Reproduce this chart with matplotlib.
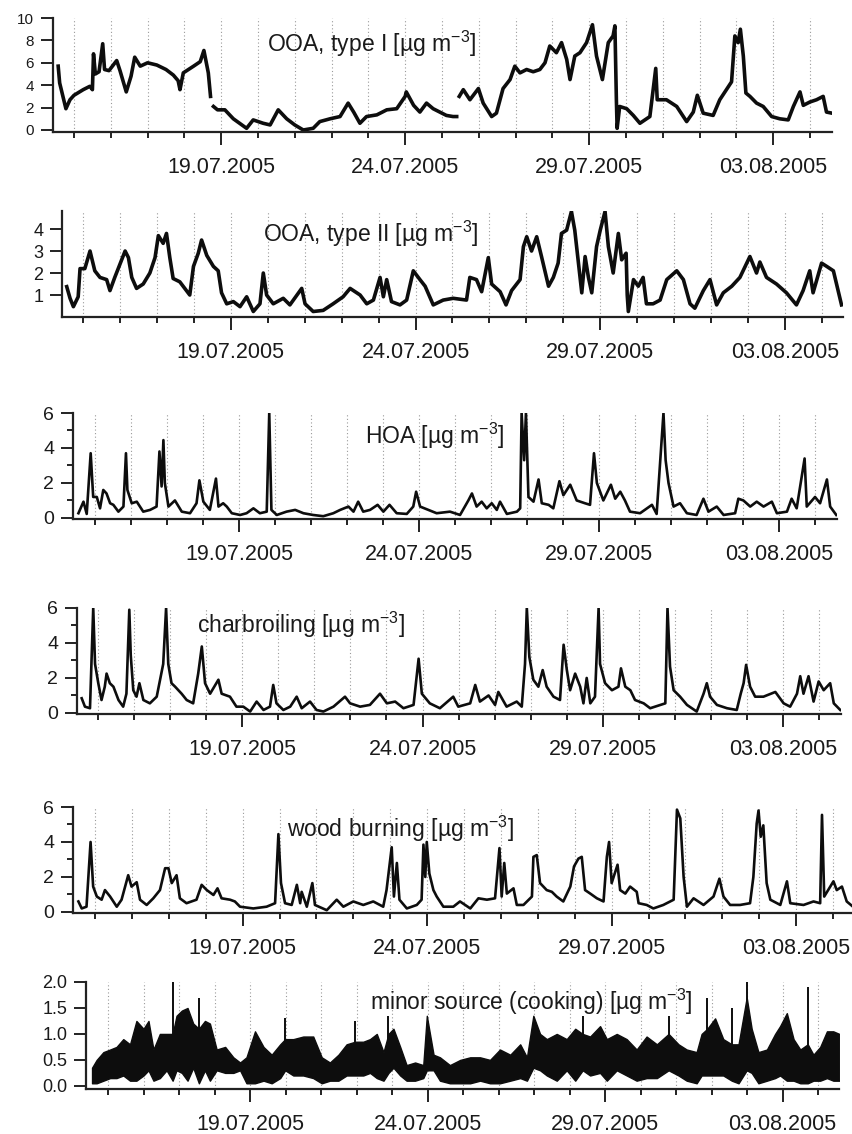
import numpy as np
import matplotlib
matplotlib.use("Agg")
import matplotlib.pyplot as plt

plt.rcParams['font.family'] = ['Liberation Sans', 'DejaVu Sans']
plt.rcParams['mathtext.fontset'] = 'custom'
plt.rcParams['mathtext.rm'] = 'Liberation Sans'
plt.rcParams['mathtext.it'] = 'Liberation Sans'
plt.rcParams['mathtext.bf'] = 'Liberation Sans'

# time axis: days after 15.07.2005 00:00
day_ticks = list(range(0, 21))
major_days = [4, 9, 14, 19]
major_labels = ['19.07.2005', '24.07.2005', '29.07.2005', '03.08.2005']

# ---------------- OOA, type I ----------------
ooa1_t = [-0.43, -0.39, -0.3, -0.22, -0.11, 0.0, 0.25, 0.43, 0.5, 0.53, 0.58, 0.68, 0.78, 0.83, 0.95,
          1.16, 1.25, 1.42, 1.55, 1.65, 1.8, 2.0, 2.25, 2.5, 2.7, 2.83, 2.88, 2.97, 3.25, 3.43, 3.53,
          3.65, 3.71, 3.75, 3.79, 3.9, 4.1, 4.33, 4.5, 4.69, 4.87, 5.14, 5.33, 5.55, 5.78, 6.0, 6.23,
          6.5, 6.68, 6.96, 7.23, 7.45, 7.6, 7.77, 7.95, 8.23, 8.5, 8.77, 9.0, 9.03, 9.23, 9.4, 9.58,
          9.76, 9.94, 10.12, 10.3, 10.4, 10.43, 10.47, 10.58, 10.76, 10.99, 11.12, 11.35, 11.48, 11.66,
          11.85, 11.98, 12.12, 12.3, 12.48, 12.66, 12.8, 12.93, 13.11, 13.25, 13.39, 13.48, 13.61,
          13.75, 13.93, 14.09, 14.2, 14.36, 14.52, 14.65, 14.7, 14.74, 14.76, 14.83, 15.02, 15.2,
          15.38, 15.65, 15.81, 15.85, 16.1, 16.38, 16.65, 16.83, 16.94, 17.1, 17.37, 17.55, 17.73,
          17.87, 17.96, 18.05, 18.11, 18.19, 18.26, 18.37, 18.55, 18.73, 18.96, 19.18, 19.41, 19.55,
          19.73, 19.82, 20.0, 20.18, 20.36, 20.45, 20.6]
ooa1_v = [5.7, 4.2, 3.0, 1.9, 2.7, 3.1, 3.6, 3.9, 3.6, 6.8, 5.0, 5.2, 7.7, 5.4, 5.3,
          6.2, 5.3, 3.4, 4.8, 6.5, 5.7, 6.0, 5.8, 5.4, 4.9, 4.4, 3.6, 5.1, 5.7, 6.1, 7.1,
          5.1, 3.0, np.nan, 2.1, 1.8, 1.8, 1.0, 0.6, 0.15, 0.9, 0.6, 0.45, 1.8, 1.0, 0.45, 0.0,
          0.15, 0.75, 1.0, 1.2, 2.4, 1.6, 0.6, 1.2, 1.35, 1.8, 1.9, 3.0, 3.4, 2.2, 1.6, 2.4,
          1.9, 1.6, 1.3, 1.2, 1.2, np.nan, 3.0, 3.6, 2.7, 3.7, 2.4, 1.2, 1.5, 3.7,
          4.5, 5.7, 5.1, 5.4, 5.2, 5.4, 6.0, 7.5, 6.9, 7.8, 6.3, 4.5, 6.6,
          6.9, 7.8, 9.4, 6.6, 4.5, 7.8, 8.4, 9.3, 2.7, 0.15, 2.1, 1.9, 1.3,
          0.6, 1.2, 5.5, 2.7, 2.7, 2.1, 0.75, 1.6, 3.1, 1.5, 1.3, 2.7, 3.6,
          4.3, 8.4, 7.8, 9.0, 6.6, 3.3, 3.0, 2.4, 2.1, 1.2, 1.0, 0.9, 2.1,
          3.4, 2.2, 2.5, 2.7, 3.0, 1.6, 1.5]

# ---------------- OOA, type II ----------------
ooa2_t = [-0.44, -0.35, -0.26, -0.13, -0.08, 0.05, 0.19, 0.32, 0.46, 0.64, 0.73, 0.86, 1.0, 1.14,
          1.23, 1.32, 1.45, 1.63, 1.81, 1.95, 2.04, 2.17, 2.26, 2.35, 2.44, 2.62, 2.8, 2.89, 2.99,
          3.12, 3.21, 3.35, 3.53, 3.66, 3.75, 3.89, 4.07, 4.25, 4.43, 4.61, 4.79, 4.88, 4.97, 5.15,
          5.42, 5.6, 5.92, 6.01, 6.23, 6.5, 6.77, 7.04, 7.23, 7.5, 7.68, 7.86, 8.04, 8.13, 8.22,
          8.35, 8.58, 8.76, 8.94, 9.12, 9.26, 9.48, 9.75, 10.02, 10.38, 10.47, 10.65, 10.79, 10.97,
          11.06, 11.29, 11.45, 11.6, 11.83, 11.92, 12.01, 12.14, 12.28, 12.41, 12.6, 12.73, 12.86,
          12.95, 13.09, 13.22, 13.31, 13.4, 13.5, 13.59, 13.68, 13.77, 13.9, 14.0, 14.13, 14.22,
          14.35, 14.49, 14.58, 14.7, 14.73, 14.76, 14.9, 15.03, 15.16, 15.25, 15.43, 15.62, 15.8,
          16.07, 16.25, 16.43, 16.56, 16.79, 16.97, 17.15, 17.33, 17.56, 17.78, 18.05, 18.23,
          18.32, 18.5, 18.77, 19.04, 19.31, 19.49, 19.67, 19.76, 19.99, 20.13, 20.31, 20.45, 20.53]
ooa2_v = [1.38, 0.85, 0.47, 0.92, 2.2, 2.2, 3.0, 2.1, 1.8, 1.7, 1.2, 1.8, 2.4, 3.0,
          2.7, 1.8, 1.3, 1.5, 2.0, 2.7, 3.7, 3.35, 3.8, 2.7, 1.75, 1.6, 1.2, 1.0, 2.3,
          2.9, 3.5, 2.8, 2.3, 2.1, 1.1, 0.6, 0.7, 0.47, 0.92, 0.25, 0.6, 2.0, 1.0, 0.6,
          0.85, 0.55, 1.3, 0.6, 0.25, 0.3, 0.6, 0.92, 1.3, 1.0, 0.6, 0.77, 1.8, 0.92, 1.7,
          0.7, 0.55, 0.77, 2.1, 1.7, 1.4, 0.55, 0.77, 0.85, 0.77, 1.8, 1.7, 1.15, 2.7,
          1.5, 1.15, 0.55, 1.2, 1.7, 3.2, 3.65, 3.0, 3.65, 2.75, 1.4, 1.8, 2.45,
          3.8, 3.95, 4.8, 3.95, 2.6, 1.1, 2.75, 1.8, 1.1, 3.2, 3.95, 4.8, 3.2,
          2.0, 3.8, 2.6, 2.9, 1.0, 0.25, 1.7, 1.4, 1.8, 0.6, 0.6, 0.77, 1.7,
          2.1, 1.7, 0.6, 0.4, 1.2, 1.7, 0.55, 1.1, 1.4, 1.8, 2.75, 2.0,
          2.5, 1.8, 1.5, 1.1, 0.55, 1.2, 2.1, 1.1, 2.45, 2.3, 2.1, 1.1, 0.55]

# ---------------- HOA ----------------
hoa_t = [-0.46, -0.32, -0.23, -0.12, -0.05, 0.05, 0.14, 0.23, 0.32, 0.42, 0.51, 0.65, 0.79, 0.86,
         0.9, 1.02, 1.16, 1.34, 1.53, 1.71, 1.79, 1.85, 1.9, 1.94, 2.04, 2.22, 2.41, 2.64, 2.82,
         2.9, 3.01, 3.19, 3.36, 3.43, 3.56, 3.66, 3.8, 4.03, 4.21, 4.4, 4.58, 4.77, 4.84, 4.9,
         5.05, 5.32, 5.56, 5.79, 6.06, 6.34, 6.62, 6.81, 7.04, 7.18, 7.31, 7.45, 7.64, 7.85, 8.01,
         8.18, 8.38, 8.66, 8.84, 8.92, 9.03, 9.21, 9.49, 9.86, 10.14, 10.37, 10.47, 10.6, 10.74,
         10.88, 11.02, 11.16, 11.25, 11.44, 11.72, 11.81, 11.85, 11.92, 11.97, 12.04, 12.18, 12.32,
         12.41, 12.6, 12.73, 12.9, 13.01, 13.2, 13.38, 13.61, 13.75, 13.86, 13.94, 14.12, 14.33,
         14.45, 14.59, 14.72, 14.86, 15.14, 15.47, 15.6, 15.79, 15.85, 15.93, 16.07, 16.25, 16.44,
         16.71, 16.9, 17.04, 17.27, 17.46, 17.78, 17.87, 18.01, 18.2, 18.38, 18.57, 18.8, 18.94,
         19.22, 19.35, 19.49, 19.71, 19.77, 20.0, 20.14, 20.33, 20.42, 20.59]
hoa_v = [0.27, 0.93, 0.23, 3.7, 1.2, 1.2, 0.55, 1.6, 1.4, 0.84, 0.75, 0.36, 0.65, 3.7,
         1.6, 0.84, 0.93, 0.36, 0.46, 0.65, 3.8, 1.8, 4.45, 2.0, 0.65, 1.0, 0.36, 0.27, 0.84,
         2.15, 0.93, 0.46, 2.25, 0.65, 0.84, 0.65, 0.27, 0.17, 0.27, 0.55, 0.27, 0.36, 6.0, 0.46,
         0.17, 0.36, 0.46, 0.27, 0.17, 0.1, 0.27, 0.46, 0.65, 0.36, 0.93, 0.36, 0.46, 0.75, 0.36,
         0.75, 0.27, 0.23, 0.65, 1.5, 0.65, 0.5, 0.27, 0.36, 0.17, 1.0, 1.4, 0.65, 0.93,
         0.55, 0.84, 0.46, 0.93, 0.23, 0.36, 0.55, 6.0, 3.3, 6.0, 1.2, 0.93, 2.2,
         0.84, 0.75, 0.55, 2.1, 1.3, 1.9, 1.0, 0.84, 0.75, 3.7, 2.0, 1.0, 1.9,
         1.1, 1.5, 1.0, 0.36, 0.27, 0.75, 0.23, 6.0, 3.3, 2.0, 0.65, 0.84, 0.27,
         0.17, 1.1, 0.36, 0.65, 0.17, 0.27, 1.1, 1.0, 0.65, 0.93, 0.65, 0.93, 0.27,
         0.36, 1.1, 0.55, 3.4, 0.65, 1.2, 0.84, 2.2, 0.65, 0.17]

# ---------------- charbroiling ----------------
char_t = [-0.45, -0.36, -0.22, -0.13, -0.08, 0.01, 0.1, 0.19, 0.24, 0.33, 0.43, 0.57, 0.7, 0.79,
          0.87, 0.91, 0.98, 1.07, 1.15, 1.26, 1.44, 1.63, 1.81, 1.89, 1.95, 2.04, 2.14, 2.32, 2.46,
          2.64, 2.78, 2.88, 2.97, 3.11, 3.34, 3.43, 3.66, 3.84, 4.03, 4.22, 4.4, 4.59, 4.77, 4.86,
          4.95, 5.14, 5.33, 5.51, 5.65, 5.88, 6.06, 6.25, 6.53, 6.85, 6.99, 7.27, 7.54, 7.82, 8.01,
          8.24, 8.47, 8.75, 8.89, 8.98, 9.2, 9.48, 9.85, 9.99, 10.32, 10.46, 10.59, 10.83, 11.01,
          11.1, 11.33, 11.61, 11.75, 11.84, 11.89, 11.96, 12.07, 12.21, 12.33, 12.44, 12.63, 12.81,
          12.91, 13.0, 13.09, 13.23, 13.37, 13.46, 13.55, 13.65, 13.78, 13.88, 13.92, 14.06, 14.25,
          14.43, 14.5, 14.62, 14.76, 14.89, 15.13, 15.31, 15.59, 15.73, 15.79, 15.86, 15.96, 16.14,
          16.33, 16.6, 16.79, 16.88, 16.97, 17.16, 17.44, 17.71, 17.82, 17.9, 17.97, 18.08, 18.22,
          18.45, 18.78, 19.01, 19.19, 19.38, 19.47, 19.56, 19.7, 19.84, 19.98, 20.12, 20.3, 20.4,
          20.58]
char_v = [0.84, 0.36, 0.27, 6.0, 2.8, 1.7, 0.74, 1.5, 2.25, 1.7, 1.5, 0.74, 0.36, 1.1,
          5.9, 3.3, 1.3, 0.93, 1.7, 0.74, 0.55, 0.93, 2.8, 6.0, 2.8, 1.7, 1.5, 1.1, 0.74,
          0.55, 2.25, 3.8, 1.7, 1.1, 1.9, 1.1, 0.93, 0.36, 0.36, 0.08, 0.65, 0.17, 0.36, 1.6,
          0.55, 0.17, 0.36, 0.93, 0.27, 0.65, 0.17, 0.08, 0.36, 0.93, 0.55, 0.36, 0.46, 1.1, 0.55,
          0.65, 0.27, 0.46, 3.1, 1.1, 0.55, 0.27, 0.93, 0.36, 0.55, 1.6, 0.65, 1.0, 0.46,
          1.2, 0.36, 0.65, 0.36, 2.8, 6.0, 3.2, 1.9, 1.5, 2.45, 1.5, 0.93, 0.74,
          3.9, 2.45, 1.3, 2.25, 1.5, 0.55, 2.0, 0.55, 0.93, 6.0, 2.8, 1.7, 1.3,
          1.5, 2.55, 1.5, 1.3, 0.74, 0.55, 0.27, 0.46, 0.55, 6.0, 2.65, 1.3, 0.93,
          0.46, 0.08, 1.1, 1.7, 0.93, 0.46, 0.27, 0.17, 1.1, 1.7, 2.75, 1.5, 0.93,
          0.93, 1.2, 0.55, 0.36, 1.1, 2.1, 1.1, 2.1, 0.65, 1.8, 1.3, 1.7, 0.55,
          0.17]

# ---------------- wood burning ----------------
wood_t = [-0.45, -0.36, -0.23, -0.12, -0.05, 0.05, 0.18, 0.27, 0.41, 0.59, 0.72, 0.9, 0.99, 1.13,
          1.22, 1.4, 1.58, 1.76, 1.9, 1.99, 2.08, 2.21, 2.3, 2.48, 2.75, 2.89, 3.03, 3.21, 3.32,
          3.43, 3.66, 3.79, 3.93, 4.29, 4.65, 4.88, 4.97, 5.04, 5.15, 5.33, 5.47, 5.56, 5.6, 5.74,
          5.89, 5.96, 6.28, 6.55, 6.73, 7.0, 7.27, 7.54, 7.81, 7.9, 8.04, 8.1, 8.18, 8.25, 8.45,
          8.72, 8.85, 8.9, 8.95, 8.99, 9.06, 9.17, 9.26, 9.44, 9.71, 9.89, 10.17, 10.39, 10.62,
          10.84, 10.96, 11.02, 11.09, 11.16, 11.34, 11.43, 11.61, 11.84, 11.88, 11.97, 12.06, 12.24,
          12.38, 12.51, 12.69, 12.88, 12.98, 13.1, 13.19, 13.28, 13.42, 13.6, 13.78, 13.87, 13.93,
          14.0, 14.16, 14.23, 14.37, 14.5, 14.68, 14.73, 14.95, 15.13, 15.4, 15.68, 15.77, 15.86,
          15.95, 16.04, 16.22, 16.49, 16.76, 16.92, 17.03, 17.21, 17.48, 17.75, 17.84, 17.93, 17.98,
          18.04, 18.11, 18.2, 18.3, 18.57, 18.75, 18.84, 19.2, 19.47, 19.65, 19.7, 19.76, 20.01,
          20.1, 20.24, 20.37, 20.54]
wood_v = [0.6, 0.2, 0.3, 4.0, 1.45, 0.88, 0.7, 1.25, 0.88, 0.3, 0.7, 2.1, 1.45, 1.7,
          0.7, 0.4, 0.78, 1.25, 2.5, 2.5, 1.65, 2.1, 0.78, 0.5, 0.7, 1.55, 1.25, 0.97, 1.35,
          0.78, 0.7, 0.6, 0.3, 0.2, 0.3, 0.5, 4.45, 1.65, 0.5, 0.4, 1.55, 0.5, 1.15, 0.3,
          1.65, 0.4, 0.1, 0.7, 0.3, 0.6, 0.4, 0.6, 0.3, 1.25, 3.7, 0.88, 2.8, 0.7, 0.2,
          0.4, 0.7, 3.85, 2.0, 4.0, 2.2, 1.25, 0.88, 0.3, 0.3, 0.6, 0.2, 0.78, 0.7,
          0.78, 3.65, 0.88, 2.8, 1.05, 1.35, 0.4, 0.4, 0.88, 3.15, 3.25, 1.65, 1.25,
          1.15, 0.88, 0.6, 1.45, 2.6, 3.05, 3.15, 1.25, 1.05, 0.78, 0.6, 3.15, 4.0,
          1.65, 2.7, 1.25, 1.05, 1.45, 1.15, 0.5, 0.4, 0.2, 0.4, 0.7, 5.85, 5.35,
          2.0, 0.3, 0.78, 0.4, 0.88, 1.9, 0.88, 0.4, 0.4, 0.5, 2.0, 5.05, 5.8,
          4.3, 4.95, 1.65, 0.7, 0.4, 1.75, 0.5, 0.4, 0.6, 0.5, 5.55, 0.88, 1.75,
          1.25, 1.45, 0.6, 0.3]

# ---------------- minor source (cooking): band lower / upper edge ----------------
minor_t = [-0.45, -0.32, -0.13, 0.06, 0.24, 0.43, 0.62, 0.8, 1.0, 1.14, 1.28, 1.46, 1.65, 1.82,
           1.93, 2.08, 2.24, 2.4, 2.56, 2.73, 2.87, 3.06, 3.3, 3.53, 3.72, 3.9, 4.14, 4.38, 4.61,
           4.85, 4.99, 5.22, 5.5, 5.78, 6.02, 6.25, 6.49, 6.72, 6.96, 7.19, 7.38, 7.57, 7.76, 7.9,
           8.04, 8.23, 8.41, 8.65, 8.88, 8.98, 9.17, 9.35, 9.63, 9.92, 10.2, 10.48, 10.76, 11.04,
           11.33, 11.61, 11.8, 11.98, 12.17, 12.36, 12.64, 12.92, 13.16, 13.37, 13.58, 13.86, 14.05,
           14.33, 14.61, 14.89, 15.17, 15.46, 15.79, 16.07, 16.3, 16.58, 16.72, 16.88, 17.1, 17.33,
           17.57, 17.76, 17.99, 18.13, 18.32, 18.56, 18.79, 18.93, 19.12, 19.31, 19.5, 19.71, 19.87,
           20.06, 20.25, 20.43, 20.6]
minor_lo = [0.05, 0.05, 0.1, 0.15, 0.15, 0.2, 0.1, 0.1, 0.2, 0.3, 0.1, 0.15, 0.3, 0.1,
            0.3, 0.25, 0.1, 0.35, 0.05, 0.3, 0.1, 0.3, 0.25, 0.25, 0.3, 0.05, 0.05, 0.1, 0.05,
            0.15, 0.3, 0.2, 0.2, 0.15, 0.05, 0.1, 0.1, 0.2, 0.2, 0.2, 0.25, 0.15, 0.1, 0.25,
            0.35, 0.2, 0.1, 0.1, 0.15, 0.3, 0.3, 0.1, 0.05, 0.05, 0.05, 0.1, 0.05, 0.05,
            0.1, 0.15, 0.1, 0.35, 0.3, 0.2, 0.1, 0.3, 0.1, 0.3, 0.2, 0.25, 0.1,
            0.3, 0.2, 0.1, 0.15, 0.15, 0.3, 0.2, 0.1, 0.05, 0.2, 0.2, 0.2, 0.2,
            0.1, 0.05, 0.3, 0.25, 0.05, 0.1, 0.15, 0.2, 0.1, 0.1, 0.05, 0.05, 0.1,
            0.1, 0.15, 0.1, 0.1]
minor_hi = [0.35, 0.5, 0.65, 0.7, 0.75, 0.9, 0.8, 1.25, 1.1, 1.25, 0.7, 1.0, 1.0, 1.0,
            1.35, 1.45, 1.5, 1.2, 1.1, 1.25, 1.2, 0.7, 0.75, 0.55, 0.45, 0.55, 1.05, 0.75, 0.6,
            0.8, 0.9, 0.9, 0.95, 0.95, 0.55, 0.45, 0.6, 0.8, 0.85, 0.85, 0.9, 1.0, 0.65, 1.0,
            1.1, 0.75, 0.4, 0.45, 0.4, 1.35, 0.6, 0.55, 0.4, 0.5, 0.55, 0.55, 0.5, 0.7,
            0.6, 0.8, 0.55, 1.35, 1.0, 0.9, 1.0, 0.9, 1.1, 1.0, 0.95, 1.15, 0.9,
            1.0, 0.9, 0.7, 0.95, 0.8, 1.0, 0.8, 0.7, 0.65, 1.0, 1.1, 1.3, 0.9,
            0.8, 0.8, 1.7, 1.1, 0.65, 0.7, 1.0, 1.15, 1.4, 0.9, 0.7, 0.8, 0.6,
            0.75, 1.05, 1.05, 1.0]
minor_spike_t = [1.82, 2.56, 4.99, 6.96, 7.9, 13.37, 15.79, 16.88, 17.57, 17.99, 19.71]
minor_spike_lo = [0.3, 0.3, 0.3, 0.3, 0.3, 0.3, 0.3, 0.3, 0.3, 0.5, 0.3]
minor_spike_hi = [2.0, 1.7, 1.3, 1.25, 1.35, 1.35, 1.35, 1.7, 1.5, 2.0, 1.9]

titles = ['OOA, type I [µg m$^{-3}$]', 'OOA, type II [µg m$^{-3}$]', 'HOA [µg m$^{-3}$]',
          'charbroiling [µg m$^{-3}$]', 'wood burning [µg m$^{-3}$]',
          'minor source (cooking) [µg m$^{-3}$]']

# ---------------- layout (pixels) ----------------
W, H = 853, 1134
fig = plt.figure(figsize=(W / 100, H / 100), dpi=100)

layout = [
    dict(box=(53, 832, 18, 132), xlim=(-0.571, 20.6), ylim=(-0.18, 10.0),
         yt=[0, 2, 4, 6, 8, 10], ym=[], ys=11, fmt='%d', tpos=(267, 44)),
    dict(box=(62, 843, 211, 317), xlim=(-0.568, 20.57), ylim=(0.0, 4.82),
         yt=[1, 2, 3, 4], ym=[], ys=13, fmt='%d', tpos=(263, 234)),
    dict(box=(73, 837, 413, 519), xlim=(-0.611, 20.61), ylim=(-0.06, 6.0),
         yt=[0, 2, 4, 6], ym=[1, 3, 5], ys=14, fmt='%d', tpos=(365, 436)),
    dict(box=(77, 841, 608, 714), xlim=(-0.58, 20.6), ylim=(-0.06, 6.0),
         yt=[0, 2, 4, 6], ym=[1, 3, 5], ys=14, fmt='%d', tpos=(197, 625)),
    dict(box=(73, 853, 807, 913), xlim=(-0.596, 20.54), ylim=(-0.06, 6.0),
         yt=[0, 2, 4, 6], ym=[1, 3, 5], ys=14, fmt='%d', tpos=(287, 829)),
    dict(box=(86, 839, 982, 1089), xlim=(-0.62, 20.59), ylim=(-0.06, 2.0),
         yt=[0.0, 0.5, 1.0, 1.5, 2.0], ym=[], ys=13, fmt='%.1f', tpos=(370, 1002)),
]

series = [(ooa1_t, ooa1_v), (ooa2_t, ooa2_v), (hoa_t, hoa_v), (char_t, char_v), (wood_t, wood_v)]
line_w = [2.6, 2.6, 1.9, 1.9, 1.9]
ink = '#0d0d0d'
axcol = '#222222'

for i, L in enumerate(layout):
    l, r, t, b = L['box']
    ax = fig.add_axes([l / W, 1 - b / H, (r - l) / W, (b - t) / H])
    ax.set_xlim(*L['xlim'])
    ax.set_ylim(*L['ylim'])
    for s in ['top', 'right']:
        ax.spines[s].set_visible(False)
    for s in ['left', 'bottom']:
        ax.spines[s].set_linewidth(1.6)
        ax.spines[s].set_color(axcol)
    ax.patch.set_alpha(0)

    if i < 5:
        tt, vv = series[i]
        ax.plot(tt, vv, color=ink, lw=line_w[i], solid_joinstyle='round')
    else:
        ax.fill_between(minor_t, minor_lo, minor_hi, color=ink, lw=1.0, edgecolor=ink)
        ax.vlines(minor_spike_t, minor_spike_lo, minor_spike_hi, color=ink, lw=1.4)

    ax.set_xticks(major_days, labels=major_labels)
    ax.set_xticks(day_ticks, minor=True)
    ax.tick_params(axis='x', which='major', length=9, width=1.4, color=axcol, pad=9,
                   labelsize=15.5, labelcolor='#1a1a1a')
    ax.tick_params(axis='x', which='minor', length=4.5, width=1.4, color=axcol)
    ax.set_yticks(L['yt'], labels=[L['fmt'] % v for v in L['yt']])
    if L['ym']:
        ax.set_yticks(L['ym'], minor=True)
    ax.tick_params(axis='y', which='major', length=8.5, width=1.4, color=axcol, pad=5,
                   labelsize=L['ys'], labelcolor='#1a1a1a')
    ax.tick_params(axis='y', which='minor', length=4.5, width=1.4, color=axcol)
    ax.grid(True, axis='x', which='both', color='#9a9a9a', lw=0.8, linestyle=(0, (1, 2.2)))
    ax.set_axisbelow(True)

    tx, ty = L['tpos']
    fig.text(tx / W, 1 - ty / H, titles[i], fontsize=16.5, color='#1a1a1a',
             ha='left', va='center')

fig.savefig('out.png', dpi=100)
